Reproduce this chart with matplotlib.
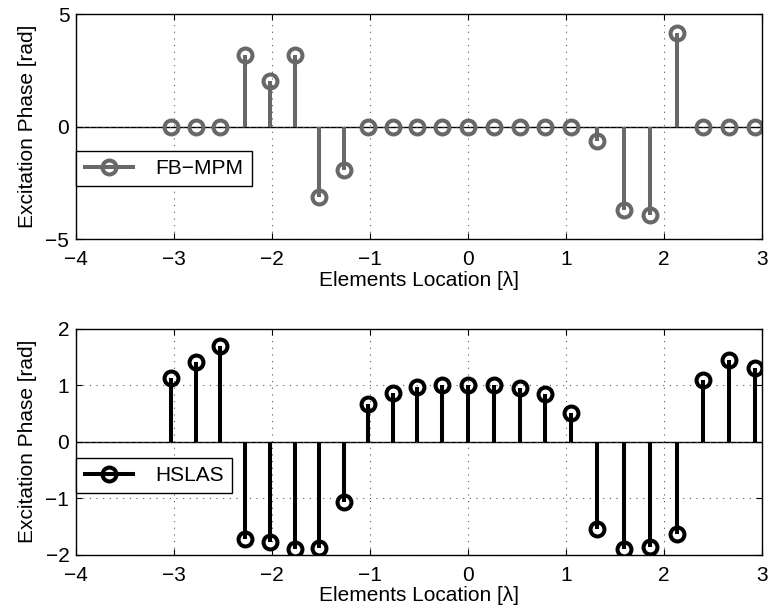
import numpy as np
import matplotlib
matplotlib.use('Agg')
import matplotlib.pyplot as plt
from matplotlib.lines import Line2D
from matplotlib.legend_handler import HandlerLine2D

plt.rcParams['font.family'] = ['Liberation Sans', 'DejaVu Sans']
plt.rcParams['font.size'] = 15

# element positions (in wavelengths) and excitation phases
positions = [-3.03, -2.78, -2.53, -2.28, -2.02, -1.77, -1.52, -1.27, -1.02, -0.77,
             -0.52, -0.27, 0.0, 0.26, 0.53, 0.78, 1.05, 1.32, 1.59, 1.86,
             2.13, 2.40, 2.66, 2.93]

phase_fbmpm = [0, 0, 0, 3.18, 2.03, 3.18, -3.13, -1.92, 0, 0,
               0, 0, 0, 0, 0, 0, 0, -0.62, -3.70, -3.92,
               4.16, 0, 0, 0]

phase_hslas = [1.13, 1.41, 1.69, -1.73, -1.78, -1.89, -1.88, -1.06, 0.67, 0.87,
               0.96, 1.0, 1.0, 1.0, 0.95, 0.84, 0.50, -1.55, -1.89, -1.87,
               -1.63, 1.09, 1.44, 1.30]

series = [
    (phase_fbmpm, 'FB\u2212MPM', '#686868', (-5, 5), [-5, 0, 5], 0.393),
    (phase_hslas, 'HSLAS', 'black', (-2, 2), [-2, -1, 0, 1, 2], 0.429),
]

LW = 2.9   # stem / marker edge width
MS = 10    # marker size


class StemLegend(HandlerLine2D):
    # legend entry with the marker at the right end of the line
    def get_xdata(self, legend, xdescent, ydescent, width, height, fontsize):
        xdata, _ = super().get_xdata(legend, xdescent, ydescent, width, height, fontsize)
        return xdata, [xdata[-1]]


fig = plt.figure(figsize=(7.69, 6.11), dpi=100)
boxes = [[0.0992, 0.6083, 0.8918, 0.3687], [0.0992, 0.0921, 0.8918, 0.3699]]

for (vals, label, col, ylim, yticks, legtop), box in zip(series, boxes):
    ax = fig.add_axes(box)
    ml, sl, bl = ax.stem(positions, vals, linefmt='-', markerfmt='o', basefmt=' ')
    plt.setp(sl, color=col, linewidth=LW)
    plt.setp(ml, color=col, markerfacecolor='none', markersize=MS, markeredgewidth=LW)
    bl.set_visible(False)
    ax.axhline(0, color='black', linewidth=1, zorder=1)

    ax.set_xlim(-4, 3)
    ax.set_ylim(*ylim)
    ax.set_yticks(yticks)
    ax.set_xticks(range(-4, 4))
    ax.grid(True, linestyle=(0, (1, 5)), color='#555555', linewidth=0.8)
    ax.tick_params(direction='in', top=True, right=True, length=4, width=0.8, labelsize=15)
    ax.tick_params(axis='x', pad=8)
    ax.tick_params(axis='y', pad=5)
    for s in ax.spines.values():
        s.set_linewidth(1.0)
    ax.set_xlabel('Elements Location [\u03bb]', labelpad=1)
    ax.set_ylabel('Excitation Phase [rad]', labelpad=6)

    handle = Line2D([0, 1], [0, 0], color=col, linewidth=LW, marker='o',
                    markerfacecolor='none', markersize=MS, markeredgewidth=LW)
    leg = ax.legend([handle], [label], loc='upper left', bbox_to_anchor=(0, legtop),
                    numpoints=1, handlelength=2.3, handletextpad=1.1,
                    borderaxespad=0, fancybox=False, edgecolor='black', framealpha=1,
                    borderpad=0.4, fontsize=15,
                    handler_map={Line2D: StemLegend()})
    leg.get_frame().set_linewidth(1.0)

fig.savefig('out.png', dpi=100)
